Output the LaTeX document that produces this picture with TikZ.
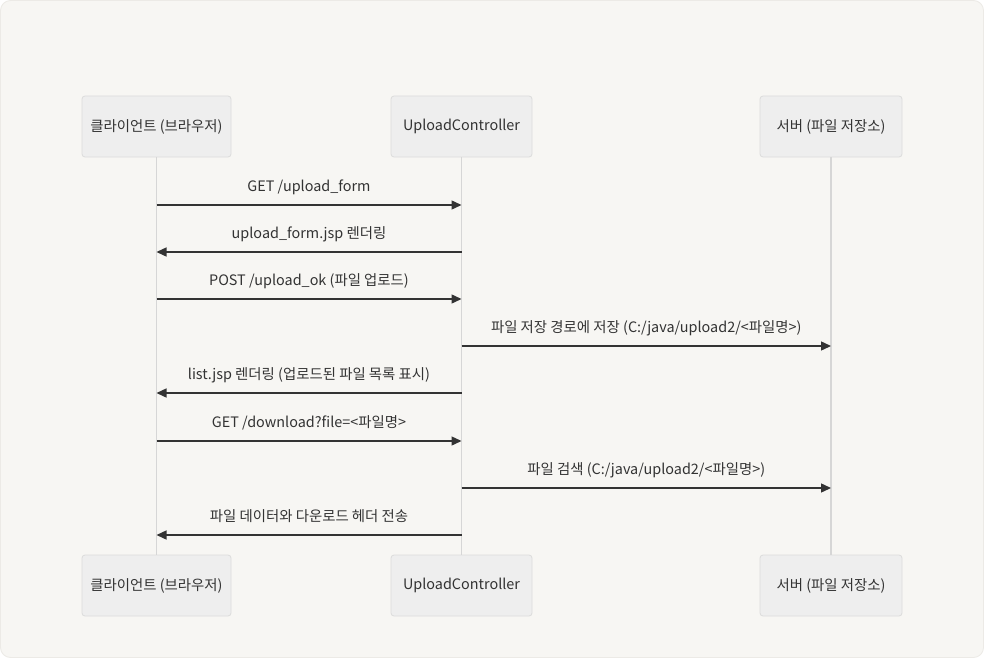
\documentclass[tikz,border=0pt]{standalone}
\usepackage{fontspec}
\setmainfont{Noto Sans CJK KR}
\usetikzlibrary{arrows.meta}
\definecolor{bgc}{HTML}{F7F6F3}
\definecolor{bgborder}{HTML}{ECEAE6}
\definecolor{boxfill}{HTML}{EEEEEE}
\definecolor{boxborder}{HTML}{DCDCDC}
\definecolor{lifec}{HTML}{D6D6D6}
\definecolor{msgc}{HTML}{333333}
\tikzset{
  actor/.style={draw=boxborder, fill=boxfill, rounded corners=3pt, line width=0.8pt,
    minimum height=61pt, inner sep=0pt, font=\fontsize{14.4pt}{17pt}\selectfont, text=msgc},
  lifeline/.style={draw=lifec, line width=1.5pt},
  msg/.style={draw=msgc, line width=1.4pt, -{Triangle[length=10pt,width=9pt]}},
  lbl/.style={font=\fontsize{14.4pt}{17pt}\selectfont, text=msgc, inner sep=0pt, anchor=base, yshift=14pt}
}
\begin{document}
\begin{tikzpicture}[x=1pt,y=-1pt]
\path[use as bounding box] (0,0) rectangle (984,658);
\fill[white] (0,0) rectangle (984,658);
\draw[bgborder, fill=bgc, rounded corners=10pt, line width=0.8pt] (0.5,0.5) rectangle (983.5,657.5);
% actors
\node[actor, minimum width=149pt] (c1) at (156.5,126.5) {클라이언트 (브라우저)};
\node[actor, minimum width=141pt] (u1) at (461.5,126.5) {UploadController};
\node[actor, minimum width=142pt] (s1) at (831,126.5) {서버 (파일 저장소)};
\node[actor, minimum width=149pt] (c2) at (156.5,585.5) {클라이언트 (브라우저)};
\node[actor, minimum width=141pt] (u2) at (461.5,585.5) {UploadController};
\node[actor, minimum width=142pt] (s2) at (831,585.5) {서버 (파일 저장소)};
% lifelines
\draw[lifeline] (c1.south) -- (c2.north);
\draw[lifeline] (u1.south) -- (u2.north);
\draw[lifeline] (s1.south) -- (s2.north);
% message coordinates
\foreach \n/\y in {1/205,2/252,3/299,4/346,5/393,6/441,7/488,8/535}{
  \coordinate (c\n) at (156.5,\y);
  \coordinate (u\n) at (461.5,\y);
  \coordinate (s\n) at (831,\y);
}
\draw[msg] (c1) -- node[lbl] (m1) {GET /upload\_form} (u1);
\draw[msg] (u2) -- node[lbl] (m2) {upload\_form.jsp 렌더링} (c2);
\draw[msg] (c3) -- node[lbl] (m3) {POST /upload\_ok (파일 업로드)} (u3);
\draw[msg] (u4) -- node[lbl] (m4) {파일 저장 경로에 저장 (C:/java/upload2/<파일명>)} (s4);
\draw[msg] (u5) -- node[lbl] (m5) {list.jsp 렌더링 (업로드된 파일 목록 표시)} (c5);
\draw[msg] (c6) -- node[lbl] (m6) {GET /download?file=<파일명>} (u6);
\draw[msg] (u7) -- node[lbl] (m7) {파일 검색 (C:/java/upload2/<파일명>)} (s7);
\draw[msg] (u8) -- node[lbl] (m8) {파일 데이터와 다운로드 헤더 전송} (c8);
\end{tikzpicture}
\end{document}
